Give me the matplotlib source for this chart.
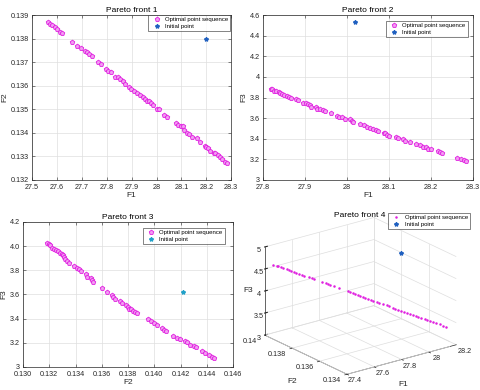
import matplotlib
matplotlib.use('Agg')
import matplotlib.pyplot as plt
from matplotlib.ticker import FixedLocator, FixedFormatter
from mpl_toolkits.mplot3d import proj3d

plt.rcParams['font.family'] = ['Liberation Sans', 'DejaVu Sans']
plt.rcParams['grid.color'] = '#dedede'
plt.rcParams['grid.linewidth'] = 0.5
plt.rcParams['axes.linewidth'] = 0.5

# Pareto front 1: F1 vs F2
f1_p1 = [27.564, 27.574, 27.582, 27.591, 27.601, 27.611, 27.622, 27.662, 27.681, 27.695,
         27.711, 27.719, 27.727, 27.740, 27.767, 27.779, 27.797, 27.806, 27.817, 27.834,
         27.844, 27.853, 27.864, 27.872, 27.891, 27.899, 27.911, 27.923, 27.934, 27.944,
         27.954, 27.960, 27.968, 27.977, 27.985, 28.003, 28.011, 28.032, 28.041, 28.077,
         28.088, 28.097, 28.105, 28.111, 28.124, 28.132, 28.144, 28.164, 28.175, 28.193,
         28.199, 28.206, 28.215, 28.229, 28.236, 28.245, 28.256, 28.262, 28.277, 28.284]
f2_p1 = [0.13870, 0.13862, 0.13856, 0.13848, 0.13839, 0.13829, 0.13822, 0.13784, 0.13770, 0.13761,
         0.13749, 0.13743, 0.13735, 0.13727, 0.13699, 0.13691, 0.13669, 0.13664, 0.13660, 0.13638,
         0.13636, 0.13627, 0.13619, 0.13607, 0.13593, 0.13585, 0.13578, 0.13568, 0.13562, 0.13554,
         0.13545, 0.13537, 0.13534, 0.13528, 0.13520, 0.13503, 0.13500, 0.13477, 0.13469, 0.13442,
         0.13432, 0.13429, 0.13429, 0.13412, 0.13401, 0.13395, 0.13384, 0.13377, 0.13363, 0.13346,
         0.13341, 0.13334, 0.13324, 0.13316, 0.13313, 0.13307, 0.13299, 0.13288, 0.13276, 0.13271]
init_p1 = [28.2, 0.1380]

# Pareto front 2: F1 vs F3
f1_p2 = [27.818, 27.822, 27.827, 27.832, 27.837, 27.841, 27.846, 27.851, 27.856, 27.861,
         27.867, 27.878, 27.884, 27.896, 27.902, 27.907, 27.911, 27.913, 27.926, 27.929,
         27.935, 27.942, 27.948, 27.961, 27.975, 27.982, 27.988, 27.994, 28.007, 28.012,
         28.015, 28.032, 28.040, 28.047, 28.055, 28.061, 28.068, 28.074, 28.087, 28.091,
         28.096, 28.101, 28.117, 28.122, 28.133, 28.139, 28.149, 28.165, 28.174, 28.181,
         28.187, 28.193, 28.200, 28.217, 28.222, 28.227, 28.262, 28.272, 28.278, 28.284]
f3_p2 = [3.883, 3.879, 3.866, 3.860, 3.853, 3.844, 3.834, 3.824, 3.815, 3.808,
         3.798, 3.786, 3.776, 3.750, 3.744, 3.737, 3.727, 3.711, 3.705, 3.692,
         3.689, 3.679, 3.669, 3.647, 3.624, 3.614, 3.608, 3.595, 3.588, 3.575,
         3.563, 3.543, 3.530, 3.517, 3.504, 3.498, 3.485, 3.472, 3.459, 3.453,
         3.440, 3.427, 3.420, 3.407, 3.394, 3.382, 3.369, 3.349, 3.336, 3.323,
         3.317, 3.304, 3.297, 3.278, 3.268, 3.265, 3.212, 3.200, 3.194, 3.183]
init_p2 = [28.02, 4.53]

# Pareto front 3: F2 vs F3
f2_p3 = [0.13186, 0.13194, 0.13204, 0.13222, 0.13237, 0.13250, 0.13265, 0.13280, 0.13296, 0.13306,
         0.13311, 0.13321, 0.13336, 0.13349, 0.13387, 0.13408, 0.13423, 0.13443, 0.13479, 0.13489,
         0.13515, 0.13525, 0.13535, 0.13599, 0.13637, 0.13678, 0.13688, 0.13703, 0.13739, 0.13754,
         0.13785, 0.13800, 0.13810, 0.13821, 0.13836, 0.13851, 0.13866, 0.13955, 0.13973, 0.13998,
         0.14019, 0.14057, 0.14075, 0.14090, 0.14146, 0.14172, 0.14197, 0.14233, 0.14248, 0.14274,
         0.14304, 0.14319, 0.14363, 0.14389, 0.14417, 0.14442, 0.14457]
f3_p3 = [4.026, 4.018, 4.007, 3.988, 3.979, 3.968, 3.957, 3.946, 3.935, 3.924,
         3.908, 3.897, 3.880, 3.863, 3.836, 3.819, 3.808, 3.792, 3.770, 3.747,
         3.737, 3.720, 3.703, 3.654, 3.621, 3.593, 3.577, 3.565, 3.543, 3.532,
         3.510, 3.499, 3.483, 3.477, 3.466, 3.455, 3.449, 3.394, 3.378, 3.367,
         3.350, 3.323, 3.306, 3.295, 3.257, 3.240, 3.229, 3.218, 3.207, 3.185,
         3.174, 3.163, 3.130, 3.119, 3.102, 3.086, 3.074]
init_p3 = [0.1422, 3.621]

# Pareto front 4: F1, F2, F3
f1_p4 = [27.442, 27.456, 27.464, 27.475, 27.486, 27.501, 27.511, 27.521, 27.533, 27.543,
         27.554, 27.566, 27.576, 27.598, 27.609, 27.622, 27.656, 27.670, 27.682, 27.692,
         27.706, 27.731, 27.767, 27.779, 27.790, 27.800, 27.811, 27.822, 27.834, 27.844,
         27.856, 27.869, 27.880, 27.894, 27.906, 27.923, 27.938, 27.949, 27.964, 27.976,
         27.989, 28.000, 28.013, 28.025, 28.040, 28.051, 28.064, 28.075, 28.090, 28.104,
         28.116, 28.129, 28.141, 28.155, 28.170, 28.184, 28.198]
f2_p4 = [0.13979, 0.13969, 0.13964, 0.13957, 0.13949, 0.13939, 0.13933, 0.13925, 0.13918, 0.13911,
         0.13904, 0.13895, 0.13889, 0.13874, 0.13866, 0.13858, 0.13835, 0.13825, 0.13818, 0.13811,
         0.13802, 0.13785, 0.13761, 0.13753, 0.13745, 0.13738, 0.13731, 0.13723, 0.13716, 0.13709,
         0.13701, 0.13692, 0.13685, 0.13675, 0.13667, 0.13656, 0.13646, 0.13638, 0.13628, 0.13620,
         0.13612, 0.13604, 0.13595, 0.13587, 0.13578, 0.13570, 0.13561, 0.13554, 0.13544, 0.13534,
         0.13526, 0.13517, 0.13510, 0.13500, 0.13490, 0.13481, 0.13471]
f3_p4 = [4.597, 4.573, 4.558, 4.540, 4.521, 4.496, 4.479, 4.461, 4.441, 4.424,
         4.405, 4.384, 4.367, 4.330, 4.310, 4.288, 4.231, 4.206, 4.187, 4.170,
         4.145, 4.102, 4.041, 4.020, 4.001, 3.984, 3.966, 3.946, 3.927, 3.910,
         3.889, 3.867, 3.847, 3.823, 3.803, 3.773, 3.749, 3.729, 3.703, 3.684,
         3.661, 3.642, 3.620, 3.599, 3.574, 3.555, 3.533, 3.513, 3.489, 3.464,
         3.443, 3.421, 3.401, 3.377, 3.352, 3.327, 3.303]
init_p4 = [28.2, 0.138, 4.5]

# tick labels
ticks_x1 = [27.5, 27.6, 27.7, 27.8, 27.9, 28.0, 28.1, 28.2, 28.3]
labels_x1 = ['27.5', '27.6', '27.7', '27.8', '27.9', '28', '28.1', '28.2', '28.3']
ticks_y1 = [0.132, 0.133, 0.134, 0.135, 0.136, 0.137, 0.138, 0.139]
labels_y1 = ['0.132', '0.133', '0.134', '0.135', '0.136', '0.137', '0.138', '0.139']
ticks_x2 = [27.8, 27.9, 28.0, 28.1, 28.2, 28.3]
labels_x2 = ['27.8', '27.9', '28', '28.1', '28.2', '28.3']
ticks_y2 = [3.0, 3.2, 3.4, 3.6, 3.8, 4.0, 4.2, 4.4, 4.6]
labels_y2 = ['3', '3.2', '3.4', '3.6', '3.8', '4', '4.2', '4.4', '4.6']
ticks_x3 = [0.130, 0.132, 0.134, 0.136, 0.138, 0.140, 0.142, 0.144, 0.146]
labels_x3 = ['0.130', '0.132', '0.134', '0.136', '0.138', '0.140', '0.142', '0.144', '0.146']
ticks_y3 = [3.0, 3.2, 3.4, 3.6, 3.8, 4.0, 4.2]
labels_y3 = ['3', '3.2', '3.4', '3.6', '3.8', '4.0', '4.2']
ticks_x4 = [27.4, 27.6, 27.8, 28.0, 28.2]
labels_x4 = ['27.4', '27.6', '27.8', '28', '28.2']
ticks_y4 = [0.134, 0.136, 0.138, 0.14]
labels_y4 = ['0.134', '0.136', '0.138', '0.14']
ticks_z4 = [3, 3.5, 4, 4.5, 5]
labels_z4 = ['3', '3.5', '4', '4.5', '5']

MAG = '#e020e0'
BLUE = '#2060c0'
TEAL = '#20a0c8'
TXT = '#262626'
GRID = '#dedede'

fig = plt.figure(figsize=(4.8, 3.9), dpi=100)


def style_2d(ax, title, xl, yl, xt, xtl, yt, ytl):
    ax.set_xlim(xt[0], xt[-1])
    ax.set_ylim(yt[0], yt[-1])
    ax.xaxis.set_major_locator(FixedLocator(xt))
    ax.xaxis.set_major_formatter(FixedFormatter(xtl))
    ax.yaxis.set_major_locator(FixedLocator(yt))
    ax.yaxis.set_major_formatter(FixedFormatter(ytl))
    ax.grid(True, color=GRID, linewidth=0.5)
    ax.set_axisbelow(True)
    ax.tick_params(direction='in', length=2, width=0.4, labelsize=5.2, colors=TXT,
                   pad=2, top=True, right=True)
    ax.tick_params(axis='x', pad=3)
    for s in ax.spines.values():
        s.set_color(TXT)
        s.set_linewidth(0.5)
    ax.set_title(title, fontsize=6, color='black', pad=2)
    ax.set_xlabel(xl, fontsize=6, color=TXT, labelpad=0.5)
    ax.set_ylabel(yl, fontsize=6, color=TXT, labelpad=2)


def add_legend(ax, anchor, transform=None):
    kw = {}
    if transform is not None:
        kw['bbox_transform'] = transform
    leg = ax.legend(loc='upper right', bbox_to_anchor=anchor, fontsize=4.3, frameon=True,
                    fancybox=False, borderpad=0.35, labelspacing=0.25, handlelength=2.0,
                    handletextpad=0.4, borderaxespad=0, **kw)
    leg.get_frame().set_edgecolor(TXT)
    leg.get_frame().set_linewidth(0.5)


# Plot 1
ax1 = fig.add_axes([0.0667, 0.5385, 0.415, 0.423])
ax1.plot(f1_p1, f2_p1, linestyle='none', marker='p', ms=3.4, mfc='#f29cf2', mec=MAG,
         mew=0.6, label='Optimal point sequence')
ax1.plot(init_p1[0], init_p1[1], linestyle='none', marker='*', ms=3, color=BLUE,
         label='Initial point')
style_2d(ax1, 'Pareto front 1', 'F1', 'F2', ticks_x1, labels_x1, ticks_y1, labels_y1)
add_legend(ax1, (0.995, 1.0))

# Plot 2
ax2 = fig.add_axes([0.548, 0.5385, 0.4375, 0.423])
ax2.plot(f1_p2, f3_p2, linestyle='none', marker='p', ms=3.4, mfc='#f29cf2', mec=MAG,
         mew=0.6, label='Optimal point sequence')
ax2.plot(init_p2[0], init_p2[1], linestyle='none', marker='*', ms=3, color=BLUE,
         label='Initial point')
style_2d(ax2, 'Pareto front 2', 'F1', 'F3', ticks_x2, labels_x2, ticks_y2, labels_y2)
add_legend(ax2, (0.975, 0.965))

# Plot 3
ax3 = fig.add_axes([0.048, 0.059, 0.4375, 0.372])
ax3.plot(f2_p3, f3_p3, linestyle='none', marker='p', ms=3.4, mfc='#f29cf2', mec=MAG,
         mew=0.6, label='Optimal point sequence')
ax3.plot(init_p3[0], init_p3[1], linestyle='none', marker='*', ms=3, color=TEAL,
         label='Initial point')
style_2d(ax3, 'Pareto front 3', 'F2', 'F3', ticks_x3, labels_x3, ticks_y3, labels_y3)
add_legend(ax3, (0.96, 0.96))

# Plot 4 (3D)
ax4 = fig.add_axes([0.4958, 0.0, 0.5, 0.47], projection='3d', computed_zorder=False)
ax4.set_proj_type('ortho')
x0, x1 = ticks_x4[0], ticks_x4[-1]
y0, y1 = ticks_y4[0], ticks_y4[-1]
z0, z1 = ticks_z4[0], ticks_z4[-1]
ax4.set_xlim(x0, x1)
ax4.set_ylim(y0, y1)
ax4.set_zlim(z0, z1)
# x/y ticks are drawn by hand (MATLAB style placement), z ticks by matplotlib
ax4.set_xticks([])
ax4.set_yticks([])
ax4.set_zticks(ticks_z4)
ax4.set_zticklabels(labels_z4)
ax4.view_init(elev=21, azim=-127)
ax4.set_box_aspect((1, 1, 0.69), zoom=1.14)
for axis in (ax4.xaxis, ax4.yaxis, ax4.zaxis):
    axis.set_pane_color((1, 1, 1, 0))
    axis.pane.set_edgecolor(GRID)
    axis.line.set_color(TXT)
    axis.line.set_linewidth(0.5)
    axis._axinfo['tick']['inward_factor'] = 0.0
    axis._axinfo['tick']['outward_factor'] = 0.3
ax4.tick_params(labelsize=5.2, colors=TXT)
ax4.zaxis.set_tick_params(pad=-6)
ax4.set_zlabel('F3', fontsize=6, labelpad=-15, color=TXT)

# grid on the floor and back walls for F1 / F2 ticks
for v in ticks_x4:
    ax4.plot([v, v], [y0, y1], [z0, z0], color=GRID, lw=0.5, zorder=0.5)
    ax4.plot([v, v], [y1, y1], [z0, z1], color=GRID, lw=0.5, zorder=0.5)
    ax4.plot([v, v], [y0, y0 - 0.00012], [z0, z0], color=TXT, lw=0.5, zorder=0.6)
for v in ticks_y4:
    ax4.plot([x0, x1], [v, v], [z0, z0], color=GRID, lw=0.5, zorder=0.5)
    ax4.plot([x1, x1], [v, v], [z0, z1], color=GRID, lw=0.5, zorder=0.5)
    ax4.plot([x0, x0 - 0.016], [v, v], [z0, z0], color=TXT, lw=0.5, zorder=0.6)

ax4.plot(f1_p4, f2_p4, f3_p4, linestyle='none', marker='.', ms=1.6, color=MAG,
         label='Optimal point sequence', zorder=3)
ax4.plot([init_p4[0]], [init_p4[1]], [init_p4[2]], linestyle='none', marker='*', ms=3,
         color=BLUE, label='Initial point', zorder=3)

fig.text(360 / 480, 1 - 215 / 390, 'Pareto front 4', fontsize=6, ha='center', va='center')
add_legend(ax4, (470 / 480, 1 - 213 / 390), fig.transFigure)

# place F1 / F2 tick labels as plain 2D text at the projected tick positions
fig.canvas.draw()


def to_fig(x, y, z):
    px, py, _ = proj3d.proj_transform(x, y, z, ax4.M)
    disp = ax4.transData.transform((px, py))
    return fig.transFigure.inverted().transform(disp)


for v, lab in zip(ticks_y4, labels_y4):
    fx, fy = to_fig(x0 - 0.11, v, z0 - 0.06)
    fig.text(fx, fy, lab, fontsize=5.2, color=TXT, ha='center', va='center')
for v, lab in zip(ticks_x4, labels_x4):
    fx, fy = to_fig(v, y0 - 0.0006, z0 - 0.06)
    fig.text(fx, fy, lab, fontsize=5.2, color=TXT, ha='center', va='center')
fx, fy = to_fig(27.75, y0 - 0.0006, 2.56)
fig.text(fx, fy, 'F1', fontsize=6, color=TXT, ha='center', va='center')
fx, fy = to_fig(x0 - 0.1, 0.137, 2.48)
fig.text(fx, fy, 'F2', fontsize=6, color=TXT, ha='center', va='center')

fig.savefig('out.png', dpi=100)
